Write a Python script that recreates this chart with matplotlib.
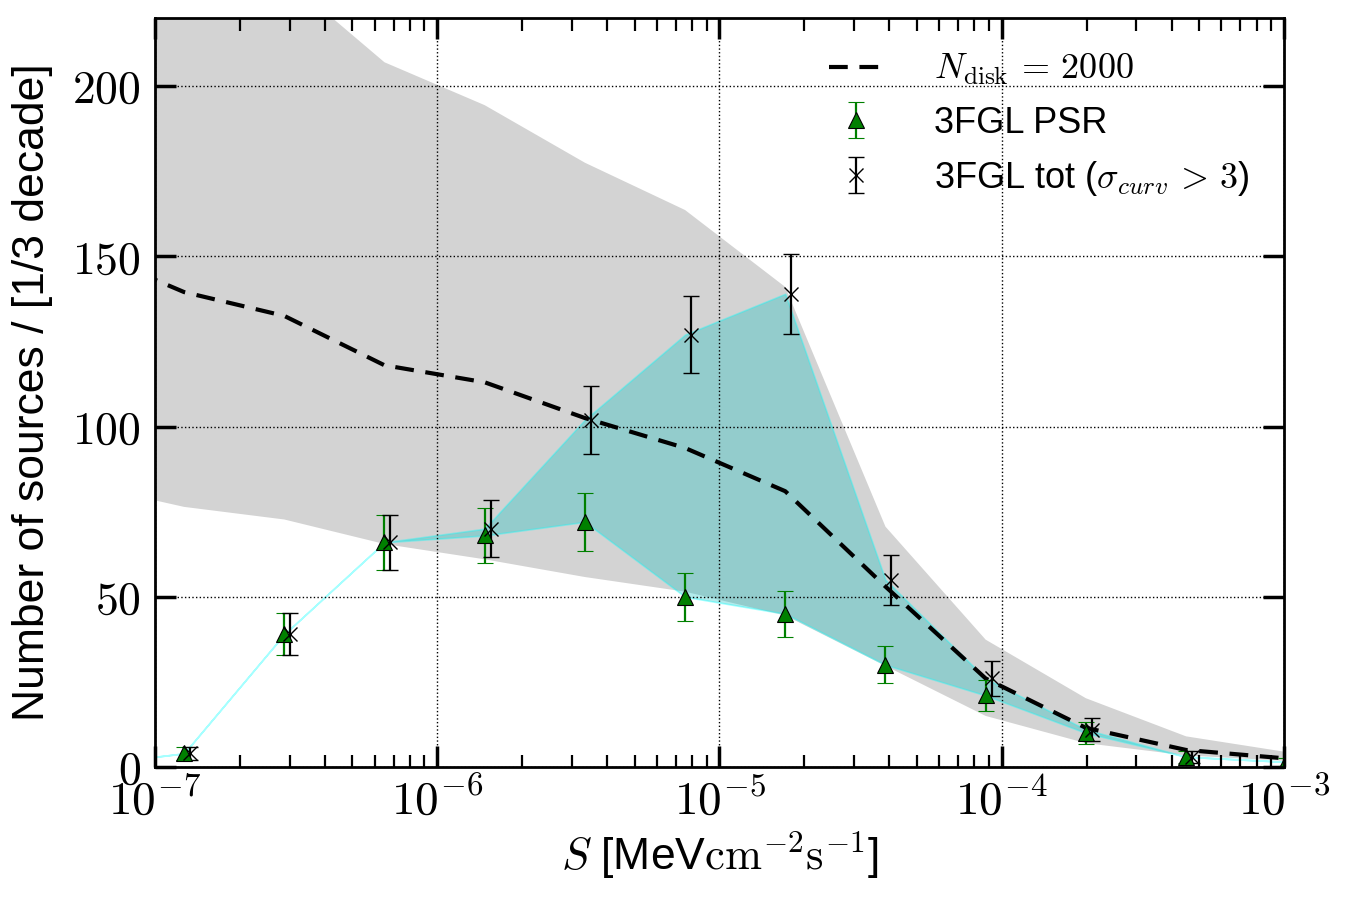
import numpy as np
import matplotlib
matplotlib.use('Agg')
import matplotlib.pyplot as plt
from matplotlib.ticker import LogLocator, NullFormatter, FixedLocator

plt.rcParams['font.family'] = ['Liberation Sans', 'DejaVu Sans']
plt.rcParams['mathtext.fontset'] = 'cm'

# log10 of flux at the bin nodes (first and last lie just outside the axes)
logS = [-7.252, -6.897, -6.542, -6.187, -5.832, -5.477, -5.122,
        -4.767, -4.412, -4.057, -3.702, -3.347, -2.992]

# model, N_disk = 2000: median and band
model = [152, 139.5, 132.5, 118, 113, 102.5, 93.7, 81, 53, 26, 11.5, 5, 2.5]
band_lo = [83, 76.4, 72.7, 65.5, 61, 55.8, 51.5, 44.5, 29.7, 15, 7, 3.4, 1.8]
band_hi = [300, 265, 232, 207, 194.4, 177.5, 163.6, 141, 70.6, 37.4, 20.2, 9, 4.4]

# 3FGL counts
psr = [0.5, 4, 39, 66, 68, 72, 50, 45, 30, 21, 10, 3, 1.5]
psr_err = [0.5, 2, 6.2, 8, 8.2, 8.5, 7, 6.7, 5.4, 4.6, 3.2, 1.7, 1.2]
tot = [0.5, 4, 39, 66, 70, 102, 127, 139, 55, 26, 11, 3, 1.5]
tot_err = [0.5, 2, 6.2, 8, 8.4, 10, 11.3, 11.8, 7.3, 5.1, 3.3, 1.7, 1.2]

S = 10 ** np.array(logS)

fig = plt.figure(figsize=(13.5, 9), dpi=100)
ax = fig.add_axes([0.1148, 0.1478, 0.8363, 0.8322])

ax.fill_between(S, band_lo, band_hi, color='lightgray', lw=0, zorder=1)
ax.fill_between(S, psr, tot, facecolor=(0, 0.75, 0.75, 0.3),
                edgecolor=(0, 1, 1, 0.35), lw=1.2, zorder=1.1)
ax.plot(S, model, 'k', lw=3, dashes=(4.5, 2.8), label=r'$N_{\rm disk}\,=\,2000$')

ax.errorbar(S, psr, yerr=psr_err, fmt='^', color='green', mfc='green', mec='k',
            mew=0.8, ms=11, elinewidth=1.6, capsize=6, capthick=1.6,
            label='3FGL PSR')
ax.errorbar(S * 1.05, tot, yerr=tot_err, fmt='x', color='k', ms=10, mew=1,
            elinewidth=1.6, capsize=6, capthick=1.6,
            label=r'3FGL tot ($\sigma_{curv}\,>\,3$)')

ax.set_xscale('log')
ax.set_xlim(1e-7, 1e-3)
ax.set_ylim(0, 220)

ax.xaxis.set_major_locator(FixedLocator([1e-7, 1e-6, 1e-5, 1e-4, 1e-3]))
ax.set_xticklabels([r'$10^{-7}$', r'$10^{-6}$', r'$10^{-5}$', r'$10^{-4}$', r'$10^{-3}$'])
ax.xaxis.set_minor_locator(LogLocator(base=10, subs=np.arange(2, 10), numticks=20))
ax.xaxis.set_minor_formatter(NullFormatter())
yt = [0, 50, 100, 150, 200]
ax.set_yticks(yt)
ax.set_yticklabels(['$%d$' % v for v in yt])

ax.tick_params(which='both', direction='in', top=True, right=True)
ax.tick_params(which='major', length=15, width=2.5, labelsize=33)
ax.tick_params(axis='x', which='major', pad=8, labelsize=34)
ax.tick_params(axis='y', which='major', pad=10)
ax.tick_params(which='minor', length=9, width=1.6)
for sp in ax.spines.values():
    sp.set_linewidth(2)

ax.grid(True, which='major', color='k', ls=':', lw=1)

ax.set_xlabel(r'$S$ [MeV$\mathrm{cm}^{-2}\mathrm{s}^{-1}$]', fontsize=32, labelpad=4)
ax.set_ylabel('Number of sources / [1/3 decade]', fontsize=32, labelpad=14)

ax.legend(loc='upper right', frameon=False, numpoints=1, fontsize=26,
          handlelength=1.5, handletextpad=1.4, labelspacing=0.5,
          borderaxespad=0.55, borderpad=0.4)

fig.savefig('out.png', dpi=100)
